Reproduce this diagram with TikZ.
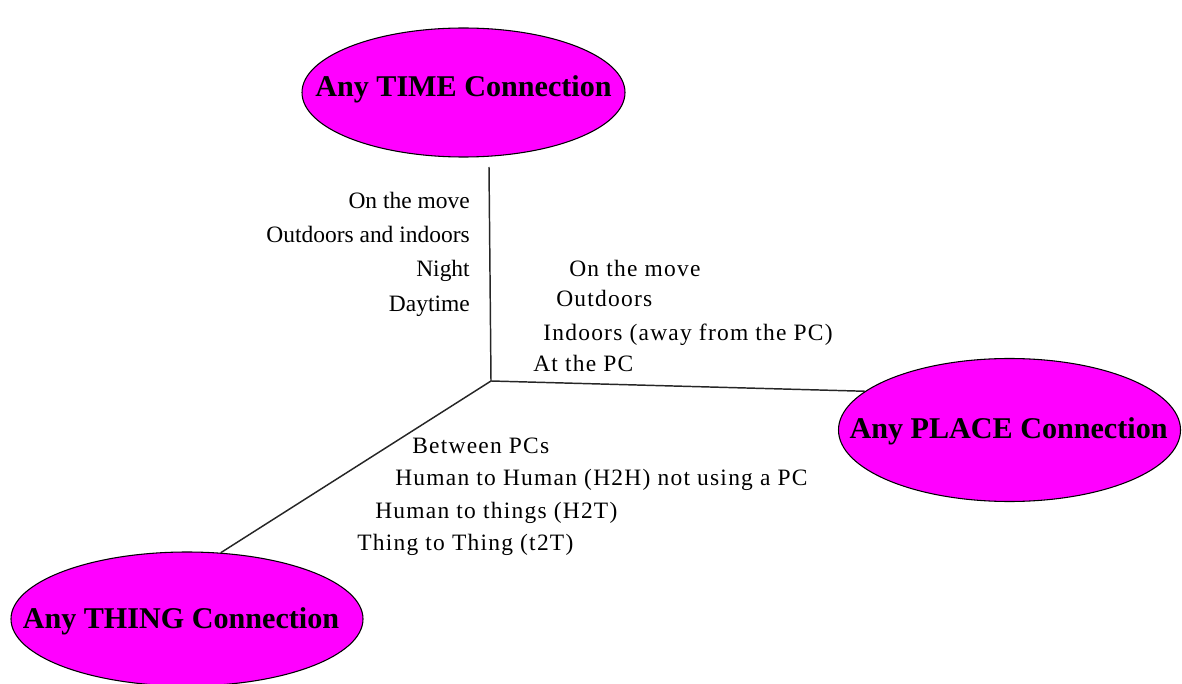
\documentclass[tikz,border=0pt]{standalone}
\usepackage{fontspec}
\setmainfont{Liberation Serif}
\newfontfamily\spacedserif[LetterSpace=5.3]{Liberation Serif}
\usetikzlibrary{shapes.geometric}
\definecolor{hubfill}{RGB}{255,0,255}
% centred title text: #1 horizontal shift, #2 baseline shift, #3 text
\newcommand\hubtext[3]{\raisebox{#2}[0pt][0pt]{\makebox[0pt]{\hspace*{#1}#3\hspace*{-#1}}}}
\begin{document}
\begin{tikzpicture}[x=0.75pt,y=-0.75pt,
  hub/.style={ellipse, draw=black, line width=0.8pt, fill=hubfill, inner sep=0pt,
    font=\fontsize{22.6}{26}\selectfont\bfseries},
  note/.style={inner sep=0pt, font=\fontsize{17.6}{20}\selectfont},
  spaced/.style={inner sep=0pt, font=\fontsize{17.6}{20}\selectfont\spacedserif},
  link/.style={draw=black!85, line width=1.1pt}]
\useasboundingbox (0,0) rectangle (1182,684);

% the three categories
\node[hub, minimum width=242.25pt, minimum height=96.75pt] (time) at (463.5,92.5)
  {\hubtext{0pt}{-3.2pt}{Any TIME Connection}};
\node[hub, minimum width=256.5pt, minimum height=107.25pt] (place) at (1009.5,430)
  {\hubtext{-0.7pt}{-6.2pt}{Any PLACE Connection}};
\node[hub, minimum width=264pt, minimum height=100.5pt] (thing) at (187,619)
  {\hubtext{-4.5pt}{-7pt}{Any THING Connection}};

% spokes
\coordinate (hubpt) at (491,381);
\coordinate (tEnd) at (489,167);
\draw[link] (tEnd) -- (hubpt);
\draw[link] (hubpt) -- (place.165);
\draw[link] (hubpt) -- (thing.63);

% time notes
\node[note, anchor=base east] (t1) at (470,209) {On the move};
\node[note, anchor=base east] (t2) at (470,243) {Outdoors and indoors};
\node[note, anchor=base east] (t3) at (470,277) {Night};
\node[note, anchor=base east] (t4) at (470,312) {Daytime};

% place notes
\node[spaced, anchor=base west] (p1) at (569,277) {On the move};
\node[spaced, anchor=base west] (p2) at (556,307) {Outdoors};
\node[spaced, anchor=base west] (p3) at (543,341) {Indoors (away from the PC)};
\node[spaced, anchor=base west] (p4) at (533,372) {At the PC};

% thing notes
\node[spaced, anchor=base west] (h1) at (412,453) {Between PCs};
\node[spaced, anchor=base west] (h2) at (395,485) {Human to Human (H2H) not using a PC};
\node[spaced, anchor=base west] (h3) at (375,518) {Human to things (H2T)};
\node[spaced, anchor=base west] (h4) at (357,550) {Thing to Thing (t2T)};
\end{tikzpicture}
\end{document}
